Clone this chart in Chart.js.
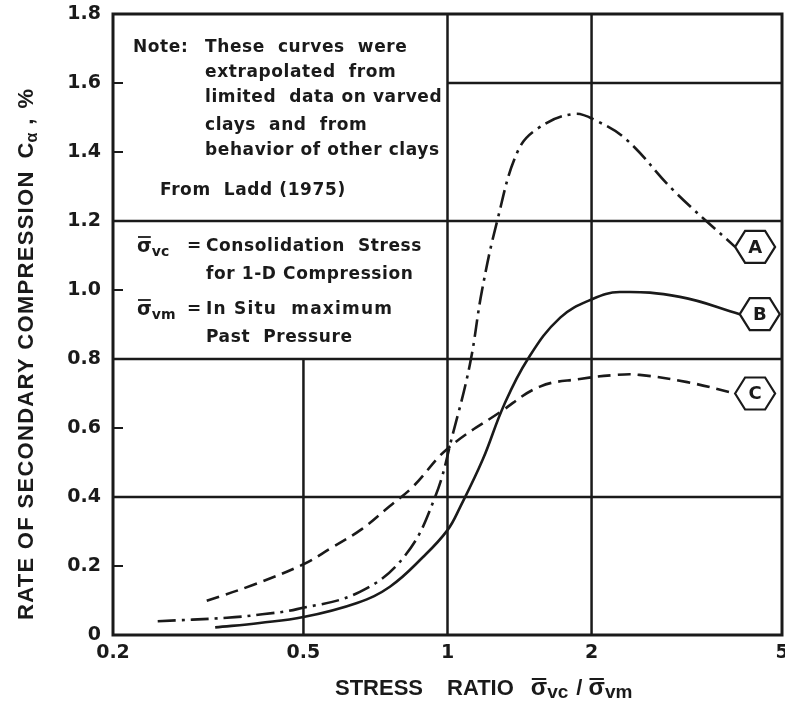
<!DOCTYPE html>
<html>
<head>
<meta charset="utf-8">
<script src="https://cdn.jsdelivr.net/npm/chart.js@4.4.1/dist/chart.umd.min.js"></script>
<style>
html,body{margin:0;padding:0;background:#fff;}
#wrap{width:785px;height:707px;position:relative;}
canvas{display:block;}
</style>
</head>
<body>
<div id="wrap"><canvas id="c" width="785" height="707"></canvas></div>
<script>
// ---- tick values & labels ----
const xTickValues = [0.2, 0.5, 1, 2, 5];
const xTickLabels = ['0.2', '0.5', '1', '2', '5'];
const yTickValues = [0, 0.2, 0.4, 0.6, 0.8, 1.0, 1.2, 1.4, 1.6, 1.8];
const yTickLabels = ['0', '0.2', '0.4', '0.6', '0.8', '1.0', '1.2', '1.4', '1.6', '1.8'];

// ---- curves (stress ratio vs C_alpha %) ----
const curveNames = ['A', 'B', 'C'];
const ratioA = [0.248, 0.346, 0.41, 0.485, 0.656, 0.815, 0.942, 1.026, 1.114, 1.18, 1.27, 1.40, 1.54, 1.83, 2.05, 2.37, 2.96, 3.99];
const calphaA = [0.04, 0.05, 0.06, 0.075, 0.125, 0.23, 0.40, 0.583, 0.785, 0.997, 1.20, 1.40, 1.467, 1.51, 1.49, 1.435, 1.29, 1.125];
const ratioB = [0.327, 0.405, 0.5, 0.647, 0.758, 0.889, 1.0, 1.062, 1.186, 1.31, 1.472, 1.72, 2.01, 2.29, 3.06, 4.08];
const calphaB = [0.022, 0.035, 0.052, 0.093, 0.14, 0.226, 0.304, 0.37, 0.51, 0.664, 0.80, 0.92, 0.974, 0.994, 0.98, 0.93];
const ratioC = [0.314, 0.392, 0.5, 0.568, 0.662, 0.758, 0.847, 1.0, 1.288, 1.56, 1.89, 2.26, 2.52, 3.17, 3.99];
const calphaC = [0.099, 0.145, 0.205, 0.25, 0.307, 0.374, 0.43, 0.54, 0.646, 0.72, 0.742, 0.754, 0.754, 0.733, 0.70];

// ---- grid layout (data units) ----
const vGrid = [0.5, 1, 2];
const vGridTop = [0.8, 1.8, 1.8];
const hGrid = [0.4, 0.8, 1.2, 1.6];
const hGridLeft = [0.2, 0.2, 0.2, 1];
const minorY = [0.2, 0.6, 1.0, 1.4, 1.6];

// ---- annotation text ----
const noteText = ['Note:', 'These  curves  were', 'extrapolated  from', 'limited  data on varved', 'clays  and  from', 'behavior of other clays', 'From  Ladd (1975)'];
const defText = ['Consolidation  Stress', 'for 1-D Compression', 'In Situ  maximum', 'Past  Pressure'];

const INK = '#1a1a1a';

function pts(xs, ys) { return xs.map((x, i) => ({x: x, y: ys[i]})); }

function drawParts(ctx, parts, x, y) {
  for (const p of parts) {
    ctx.font = p.font;
    ctx.letterSpacing = p.ls || '0px';
    const w = ctx.measureText(p.t).width;
    ctx.fillText(p.t, x, y + (p.dy || 0));
    if (p.bar) {
      ctx.save();
      ctx.lineWidth = p.barW || 2;
      ctx.beginPath();
      ctx.moveTo(x + 1, y - p.bar);
      ctx.lineTo(x + w - 1, y - p.bar);
      ctx.stroke();
      ctx.restore();
    }
    x += w + (p.gap || 0);
  }
  ctx.letterSpacing = '0px';
  return x;
}

const framePlugin = {
  id: 'frame',
  beforeDatasetsDraw(chart) {
    const ctx = chart.ctx, xs = chart.scales.x, ys = chart.scales.y, a = chart.chartArea;
    ctx.save();
    ctx.strokeStyle = INK;
    ctx.lineCap = 'butt';
    ctx.lineWidth = 2.5;
    vGrid.forEach((v, i) => {
      const px = xs.getPixelForValue(v);
      ctx.beginPath();
      ctx.moveTo(px, ys.getPixelForValue(0));
      ctx.lineTo(px, ys.getPixelForValue(vGridTop[i]));
      ctx.stroke();
    });
    hGrid.forEach((v, i) => {
      const py = ys.getPixelForValue(v);
      ctx.beginPath();
      ctx.moveTo(xs.getPixelForValue(hGridLeft[i]), py);
      ctx.lineTo(a.right, py);
      ctx.stroke();
    });
    ctx.lineWidth = 2;
    minorY.forEach(v => {
      const py = ys.getPixelForValue(v);
      ctx.beginPath();
      ctx.moveTo(a.left, py);
      ctx.lineTo(a.left + 10, py);
      ctx.stroke();
    });
    ctx.lineWidth = 3;
    ctx.strokeRect(a.left, a.top, a.right - a.left, a.bottom - a.top);
    ctx.restore();
  },
  afterDatasetsDraw(chart) {
    const ctx = chart.ctx, xs = chart.scales.x, ys = chart.scales.y;
    ctx.save();
    ctx.fillStyle = INK;
    ctx.strokeStyle = INK;
    // hexagon labels at curve ends
    chart.data.datasets.forEach((ds, i) => {
      const last = ds.data[ds.data.length - 1];
      const lx = xs.getPixelForValue(last.x), ly = ys.getPixelForValue(last.y);
      const cx = lx + 20, cy = ly;
      ctx.fillStyle = '#fff';
      ctx.lineWidth = 2.2;
      ctx.beginPath();
      ctx.moveTo(cx - 20, cy);
      ctx.lineTo(cx - 10, cy - 16);
      ctx.lineTo(cx + 10, cy - 16);
      ctx.lineTo(cx + 20, cy);
      ctx.lineTo(cx + 10, cy + 16);
      ctx.lineTo(cx - 10, cy + 16);
      ctx.closePath();
      ctx.fill();
      ctx.stroke();
      ctx.fillStyle = INK;
      ctx.font = 'bold 18px "DejaVu Sans"';
      ctx.textAlign = 'center';
      ctx.textBaseline = 'middle';
      ctx.fillText(curveNames[i], cx, cy + 1);
    });
    // note box text
    ctx.textAlign = 'left';
    ctx.textBaseline = 'middle';
    const nf = 'bold 17px "DejaVu Sans"';
    const ls = '0.6px';
    const noteY = [48, 73, 98, 126, 151, 191];
    drawParts(ctx, [{t: noteText[0], font: nf, ls: ls}], 133, noteY[0]);
    for (let k = 1; k <= 5; k++) drawParts(ctx, [{t: noteText[k], font: nf, ls: ls}], 205, noteY[k - 1]);
    drawParts(ctx, [{t: noteText[6], font: nf, ls: ls}], 160, noteY[5]);
    const defY = [247, 275, 310, 338];
    const sig = 'bold 19px "DejaVu Sans"', sub = 'bold 14px "DejaVu Sans"';
    drawParts(ctx, [{t: 'σ', font: sig, bar: 10, barW: 1.8}, {t: 'vc', font: sub, dy: 5}], 137, defY[0]);
    drawParts(ctx, [{t: '=', font: nf}], 187, defY[0]);
    drawParts(ctx, [{t: defText[0], font: nf, ls: ls}], 206, defY[0]);
    drawParts(ctx, [{t: defText[1], font: nf, ls: ls}], 206, defY[1]);
    drawParts(ctx, [{t: 'σ', font: sig, bar: 10, barW: 1.8}, {t: 'vm', font: sub, dy: 5}], 137, defY[2]);
    drawParts(ctx, [{t: '=', font: nf}], 187, defY[2]);
    drawParts(ctx, [{t: defText[2], font: nf, ls: '1.2px'}], 206, defY[2]);
    drawParts(ctx, [{t: defText[3], font: nf, ls: ls}], 206, defY[3]);

    // x-axis title
    ctx.textBaseline = 'alphabetic';
    const tf = 'bold 22px "Liberation Sans"';
    const sf = 'bold 19px "Liberation Sans"';
    drawParts(ctx, [{t: 'STRESS', font: tf}], 335, 695);
    drawParts(ctx, [{t: 'RATIO', font: tf, gap: 17},
                    {t: 'σ', font: 'bold 24px "Liberation Sans"', bar: 16, barW: 2}, {t: 'vc', font: sf, dy: 3, gap: 8},
                    {t: '/', font: tf, gap: 6},
                    {t: 'σ', font: 'bold 24px "Liberation Sans"', bar: 16, barW: 2}, {t: 'vm', font: sf, dy: 3}], 447, 695);

    // y-axis title
    ctx.save();
    ctx.translate(33, 620);
    ctx.rotate(-Math.PI / 2);
    drawParts(ctx, [{t: 'RATE OF SECONDARY COMPRESSION', font: tf, ls: '1.3px', gap: 12},
                    {t: 'C', font: tf}, {t: 'α', font: 'bold 16px "Liberation Sans"', dy: 4, gap: 8},
                    {t: ',', font: tf, gap: 10}, {t: '%', font: tf}], 0, 0);
    ctx.restore();
    ctx.restore();
  }
};

const tickFont = {family: 'DejaVu Sans', size: 19, weight: 'bold'};

new Chart(document.getElementById('c'), {
  type: 'line',
  data: {
    datasets: [
      {label: 'A', data: pts(ratioA, calphaA), borderDash: [18, 6, 3, 6]},
      {label: 'B', data: pts(ratioB, calphaB), borderDash: []},
      {label: 'C', data: pts(ratioC, calphaC), borderDash: [13, 7]}
    ].map(d => Object.assign(d, {
      borderColor: INK, borderWidth: 2.6, pointRadius: 0, fill: false,
      tension: 0.4, borderCapStyle: 'butt'
    }))
  },
  options: {
    responsive: false,
    devicePixelRatio: 1,
    animation: false,
    events: [],
    layout: {padding: {left: 0, right: 3, top: 14, bottom: 0}},
    plugins: {legend: {display: false}, tooltip: {enabled: false}, title: {display: false}},
    scales: {
      x: {
        type: 'logarithmic', min: 0.2, max: 5,
        grid: {display: false, drawTicks: false},
        border: {display: false},
        afterBuildTicks: s => { s.ticks = xTickValues.map(v => ({value: v})); },
        ticks: {
          autoSkip: false, maxRotation: 0, padding: 7, color: INK, font: tickFont,
          callback: (v, i) => xTickLabels[i]
        },
        afterFit: s => { s.height = 72; s.paddingLeft = 0; s.paddingRight = 0; }
      },
      y: {
        type: 'linear', min: 0, max: 1.8,
        grid: {display: false, drawTicks: false},
        border: {display: false},
        afterBuildTicks: s => { s.ticks = yTickValues.map(v => ({value: v})); },
        ticks: {
          autoSkip: false, padding: 12, color: INK, font: tickFont,
          callback: (v, i) => yTickLabels[i]
        },
        afterFit: s => { s.width = 113; s.paddingTop = 0; s.paddingBottom = 0; }
      }
    }
  },
  plugins: [framePlugin]
});
</script>
</body>
</html>
